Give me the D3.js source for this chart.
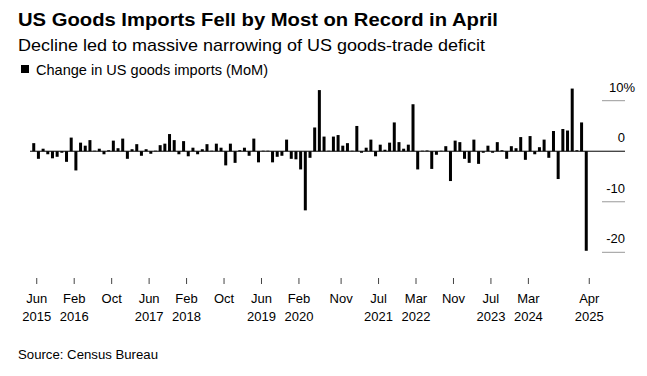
<!DOCTYPE html>
<html>
<head>
<meta charset="utf-8">
<script src="https://cdn.jsdelivr.net/npm/d3@7"></script>
<style>
  body { margin: 0; background: #fff; }
  svg { font-family: "Liberation Sans", Arial, sans-serif; }
</style>
</head>
<body>
<script>
// monthly change in US goods imports, %, Jun 2015 .. Apr 2025
const firstMonth = "2015-06";
const values = [
  1.6, -1.5, 0.5, -0.6, -1.4, -1.1, -0.3, -2.1, 2.7, -3.8,
  1.7, 1.1, 2.2, 0.1, 0.5, -0.6, 0.2, 2.1, 0.6, 2.5,
  -1.5, 0.4, 1.4, -0.9, 0.4, -0.5, 0.1, 1.2, 1.5, 3.4,
  2.2, -0.6, 2.0, -1.0, 0.7, -0.6, 0.4, 1.4, 0.1, 1.5,
  0.7, -2.8, 1.5, -2.3, 0.2, 0.7, -0.9, 2.5, -2.2, 0.1,
  0.1, -2.2, -1.1, -0.9, 2.3, -1.5, -1.6, -3.6, -11.7, -1.3,
  4.7, 12.1, 2.9, 0.1, 2.9, 3.2, 1.1, 1.6, 0.1, 5.0,
  -0.3, 0.7, 2.3, -1.0, 1.3, 0.3, 1.7, 5.7, 1.8, 0.5,
  1.3, 9.3, -3.6, 0.1, 0.15, -3.5, -0.7, 0.1, 1.0, -5.9,
  2.1, 1.8, -1.5, -2.3, 2.3, -2.5, -0.3, 1.1, -0.3, 1.8,
  0.2, -1.5, 1.0, 0.6, 2.8, -1.7, 3.0, -0.6, 0.8, 2.3,
  -1.3, 4.0, -5.5, 4.4, 4.1, 12.4, 0.2, 5.7, -19.7
];

const tickMonths = ["2015-06","2016-02","2016-10","2017-06","2018-02","2018-10","2019-06",
  "2020-02","2020-11","2021-07","2022-03","2022-11","2023-07","2024-03","2025-04"];
const tickMonthLabels = ["Jun","Feb","Oct","Jun","Feb","Oct","Jun","Feb","Nov","Jul","Mar","Nov","Jul","Mar","Apr"];
const tickYearLabels = ["2015","2016","","2017","2018","","2019","2020","","2021","2022","","2023","2024","2025"];
const yTicks = [10, 0, -10, -20];

const W = 647, H = 376;
const parse = d3.timeParse("%Y-%m");
const start = parse(firstMonth);
const months = values.map((v, i) => d3.timeFormat("%Y-%m")(d3.timeMonth.offset(start, i)));

const svg = d3.select("body").append("svg").attr("width", W).attr("height", H);

// header
svg.append("text").attr("x", 18).attr("y", 26)
  .attr("font-size", 19).attr("font-weight", "bold").attr("fill", "#000")
  .attr("textLength", 480).attr("lengthAdjust", "spacingAndGlyphs")
  .text("US Goods Imports Fell by Most on Record in April");
svg.append("text").attr("x", 18).attr("y", 50.5)
  .attr("font-size", 17).attr("fill", "#000")
  .attr("textLength", 467).attr("lengthAdjust", "spacingAndGlyphs")
  .text("Decline led to massive narrowing of US goods-trade deficit");
svg.append("rect").attr("x", 21).attr("y", 65).attr("width", 8).attr("height", 8).attr("fill", "#000");
svg.append("text").attr("x", 36).attr("y", 75)
  .attr("font-size", 14.5).attr("fill", "#000")
  .attr("textLength", 232).attr("lengthAdjust", "spacingAndGlyphs")
  .text("Change in US goods imports (MoM)");

// scales
const x = d3.scaleBand().domain(months).range([31.4, 588.6]);
const y = d3.scaleLinear().domain([-20, 10]).range([252.3, 100.7]);
const barW = 3;
const tickShift = 3;

// y ticks on the right
const yg = svg.append("g");
yg.selectAll("line").data(yTicks).join("line")
  .attr("x1", 602).attr("x2", 625)
  .attr("y1", d => y(d)).attr("y2", d => y(d))
  .attr("stroke", d => d === 0 ? "none" : "#999").attr("stroke-width", 1);
const yl = yg.selectAll("text").data(yTicks).join("text")
  .attr("x", 625).attr("y", d => y(d) - 9)
  .attr("text-anchor", "end").attr("font-size", 13).attr("fill", "#000")
  .text(d => d);
yl.filter(d => d === 10).append("tspan").text("%");
yl.filter(d => d === 10).attr("text-anchor", "start").attr("x", 609);

// bars
svg.append("g").selectAll("rect").data(values).join("rect")
  .attr("x", (d, i) => x(months[i]) + x.bandwidth() / 2 - barW / 2)
  .attr("width", barW)
  .attr("y", d => y(Math.max(0, d)))
  .attr("height", d => Math.abs(y(d) - y(0)))
  .attr("fill", "#000");

// zero line
svg.append("line").attr("x1", 30).attr("x2", 625)
  .attr("y1", y(0)).attr("y2", y(0))
  .attr("stroke", "#000").attr("stroke-width", 1);

// x axis ticks and labels
const xg = svg.append("g");
const tx = m => x(m) + x.bandwidth() / 2 + tickShift;
xg.selectAll("line").data(tickMonths).join("line")
  .attr("x1", tx).attr("x2", tx).attr("y1", 278).attr("y2", 284)
  .attr("stroke", "#444").attr("stroke-width", 1);
xg.selectAll("text.m").data(tickMonths).join("text").attr("class", "m")
  .attr("x", tx).attr("y", 303).attr("text-anchor", "middle")
  .attr("font-size", 13).attr("fill", "#000")
  .text((d, i) => tickMonthLabels[i]);
xg.selectAll("text.yr").data(tickMonths).join("text").attr("class", "yr")
  .attr("x", tx).attr("y", 321).attr("text-anchor", "middle")
  .attr("font-size", 13).attr("fill", "#000")
  .text((d, i) => tickYearLabels[i]);

svg.append("text").attr("x", 18).attr("y", 359)
  .attr("font-size", 12.5).attr("fill", "#000")
  .attr("textLength", 140).attr("lengthAdjust", "spacingAndGlyphs")
  .text("Source: Census Bureau");
</script>
</body>
</html>
